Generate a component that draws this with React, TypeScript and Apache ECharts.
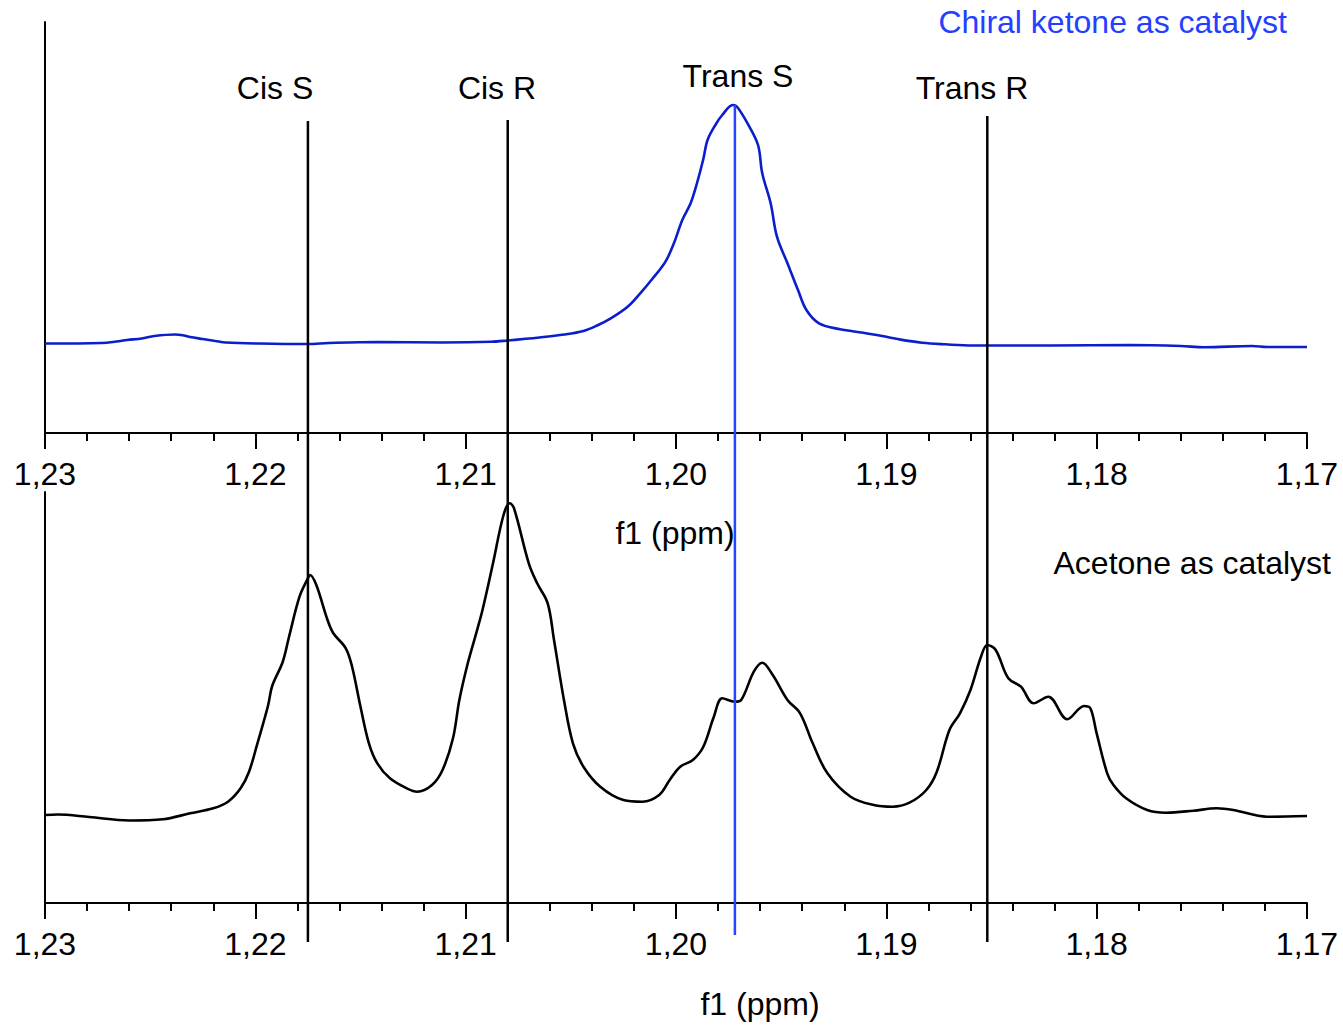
import React, { useEffect, useRef } from "react";
import * as echarts from "echarts";

// Chiral ketone as catalyst (top spectrum)
const topPpm = [1.23, 1.2273, 1.2266, 1.2261, 1.2254, 1.2248, 1.2238, 1.2234, 1.2231, 1.2225, 1.2219, 1.2214, 1.2198, 1.2175, 1.2165, 1.2142, 1.2111, 1.2088, 1.208, 1.2065, 1.2053, 1.2044, 1.2038, 1.2031, 1.2023, 1.2017, 1.2011, 1.2005, 1.2001, 1.1997, 1.1993, 1.199, 1.1987, 1.1985, 1.1981, 1.1978, 1.1973, 1.1971, 1.1966, 1.1961, 1.1959, 1.1955, 1.1952, 1.1947, 1.1942, 1.1938, 1.1932, 1.1922, 1.1911, 1.1902, 1.1894, 1.1883, 1.1872, 1.1859, 1.1822, 1.1784, 1.176, 1.1749, 1.1726, 1.1719, 1.17];
const topInt = [89.5, 90, 91.5, 93, 94.5, 97, 98.5, 97.5, 96, 94, 92, 90.5, 89.5, 89, 90, 91, 90.5, 91.2, 92.5, 95.5, 98.5, 102, 107, 114.7, 126.3, 139.7, 154.7, 171.3, 189.7, 213, 230, 250, 274, 293, 309, 318, 328, 326.3, 309.7, 288, 259.7, 229.7, 196.3, 169.7, 143, 123, 109.7, 103.7, 100.3, 97, 93.7, 90.3, 88.7, 87.5, 87.5, 88, 87, 85.7, 87, 86, 86];

// Acetone as catalyst (bottom spectrum)
const botPpm = [1.23, 1.2294, 1.2279, 1.226, 1.2244, 1.2231, 1.222, 1.2213, 1.2207, 1.2203, 1.2199, 1.2194, 1.2192, 1.2187, 1.2184, 1.2179, 1.2175, 1.2174, 1.2171, 1.2166, 1.2163, 1.2157, 1.2154, 1.215, 1.2146, 1.2142, 1.2136, 1.2128, 1.2123, 1.2116, 1.2111, 1.2106, 1.2103, 1.2099, 1.2095, 1.2092, 1.2087, 1.2082, 1.2079, 1.2077, 1.207, 1.2066, 1.2061, 1.2058, 1.2053, 1.2049, 1.2044, 1.2036, 1.2025, 1.2016, 1.2008, 1.2003, 1.1998, 1.1992, 1.1987, 1.1982, 1.1978, 1.1972, 1.1969, 1.1963, 1.1959, 1.1954, 1.1947, 1.1941, 1.1935, 1.1928, 1.1917, 1.1906, 1.1897, 1.1889, 1.1881, 1.1876, 1.187, 1.1865, 1.186, 1.1855, 1.1852, 1.1848, 1.1842, 1.1836, 1.183, 1.1823, 1.1814, 1.1806, 1.1803, 1.18, 1.1795, 1.1792, 1.1786, 1.1776, 1.1767, 1.1754, 1.1743, 1.1735, 1.1719, 1.17];
const botInt = [88, 88.5, 86, 82.5, 83.7, 89.7, 94.7, 101.3, 114.7, 131.3, 159.7, 197, 217, 241, 266, 306.3, 324.7, 328, 318, 285, 270, 254.7, 236.3, 196.3, 159.7, 139.7, 124.7, 114.7, 111.3, 118, 133, 165, 203, 239.7, 269.7, 293, 339.7, 388, 399.7, 394.7, 339.7, 319.7, 299.7, 263, 199.7, 159.7, 136.3, 116.3, 103, 101.3, 108, 123, 136.3, 143, 156.3, 186.3, 204.7, 201.3, 203, 231.3, 240.3, 228, 203, 189.7, 159.7, 129.7, 106.3, 98, 96.3, 100.3, 113, 131.3, 173, 189.7, 213, 246.3, 258, 253, 224.7, 216.3, 199.7, 206.3, 183.7, 197, 194.7, 169.7, 129.7, 118, 104.7, 93, 90.3, 92.3, 94.7, 93, 86.3, 87];

// Assignment markers: ppm, label, vertical extent (page overlay scale), color
const markerNames = ["Cis S", "Cis R", "Trans S", "Trans R"];
const markerPpm = [1.2175, 1.208, 1.1972, 1.1852];
const markerTop = [121, 120, 105, 116];
const markerBottom = [942, 942, 935, 942];
const markerColors = ["#000000", "#000000", "#2446ff", "#000000"];

const xTickLabels = ["1,17", "1,18", "1,19", "1,20", "1,21", "1,22", "1,23"];

const FONT = '"Liberation Sans", Arial, sans-serif';
const FS = 32;

export default function App() {
  const ref = useRef<HTMLDivElement>(null);
  useEffect(() => {
    if (!ref.current) return;
    const chart = echarts.init(ref.current, null, { renderer: "svg" });
    const xAxisBase = (gridIndex: number, show: boolean) => ({
      type: "value",
      gridIndex,
      min: 1.17,
      max: 1.23,
      interval: 0.01,
      inverse: true,
      show,
      position: "bottom",
      axisLine: { show: true, onZero: false, lineStyle: { color: "#000", width: 2 } },
      axisTick: { show: true, length: 16, lineStyle: { color: "#000", width: 2 } },
      minorTick: { show: true, splitNumber: 5, length: 8, lineStyle: { color: "#000", width: 2 } },
      splitLine: { show: false },
      minorSplitLine: { show: false },
      axisLabel: {
        show: true,
        margin: 25,
        fontSize: FS,
        fontFamily: FONT,
        color: "#000",
        formatter: (v: number) => xTickLabels[Math.round((v - 1.17) * 100)] ?? "",
      },
    });
    const yAxisBase = (gridIndex: number) => ({
      type: "value",
      gridIndex,
      min: 0,
      max: 411,
      axisLine: { show: true, lineStyle: { color: "#000", width: 2 } },
      axisTick: { show: false },
      axisLabel: { show: false },
      splitLine: { show: false },
    });
    const zip = (a: number[], b: number[]) => a.map((v, i) => [v, b[i]]);

    const markerSeries = markerPpm.map((p, i) => ({
      type: "line",
      name: markerNames[i],
      xAxisIndex: 2,
      yAxisIndex: 2,
      data: [
        [p, markerTop[i]],
        [p, markerBottom[i]],
      ],
      showSymbol: false,
      lineStyle: { color: markerColors[i], width: 2.5 },
      z: 5,
    }));

    const textStyle = (text: string, x: number, y: number, align: string, color = "#000") => ({
      type: "text",
      x,
      y,
      style: {
        text,
        textAlign: align,
        textVerticalAlign: "middle",
        font: `${FS}px ${FONT}`,
        fill: color,
      },
      z: 10,
    });

    chart.setOption({
      animation: false,
      backgroundColor: "#ffffff",
      grid: [
        { left: 45, top: 22, width: 1262, height: 411 },
        { left: 45, top: 492, width: 1262, height: 411 },
        { left: 45, top: 0, width: 1262, height: 1025 },
      ],
      xAxis: [xAxisBase(0, true), xAxisBase(1, true), { ...xAxisBase(2, false) }],
      yAxis: [
        yAxisBase(0),
        yAxisBase(1),
        { type: "value", gridIndex: 2, min: 0, max: 1025, inverse: true, show: false },
      ],
      series: [
        {
          type: "line",
          name: "Chiral ketone as catalyst",
          xAxisIndex: 0,
          yAxisIndex: 0,
          data: zip(topPpm, topInt),
          showSymbol: false,
          smooth: 0.35,
          lineStyle: { color: "#0a1ecc", width: 2.6 },
        },
        {
          type: "line",
          name: "Acetone as catalyst",
          xAxisIndex: 1,
          yAxisIndex: 1,
          data: zip(botPpm, botInt),
          showSymbol: false,
          smooth: 0.35,
          lineStyle: { color: "#000000", width: 2.6 },
        },
        ...markerSeries,
      ],
      graphic: [
        textStyle("Chiral ketone as catalyst", 1287, 22, "right", "#2340ff"),
        textStyle("Acetone as catalyst", 1331, 563, "right"),
        textStyle(markerNames[0], 275, 88, "center"),
        textStyle(markerNames[1], 497, 88, "center"),
        textStyle(markerNames[2], 738, 76, "center"),
        textStyle(markerNames[3], 972, 88, "center"),
        textStyle("f1 (ppm)", 675, 533, "center"),
        textStyle("f1 (ppm)", 760, 1004, "center"),
      ],
    });
    return () => chart.dispose();
  }, []);
  return (
    <div
      ref={ref}
      style={{ position: "fixed", left: 0, top: 0, width: 1343, height: 1025, background: "#fff" }}
    />
  );
}
